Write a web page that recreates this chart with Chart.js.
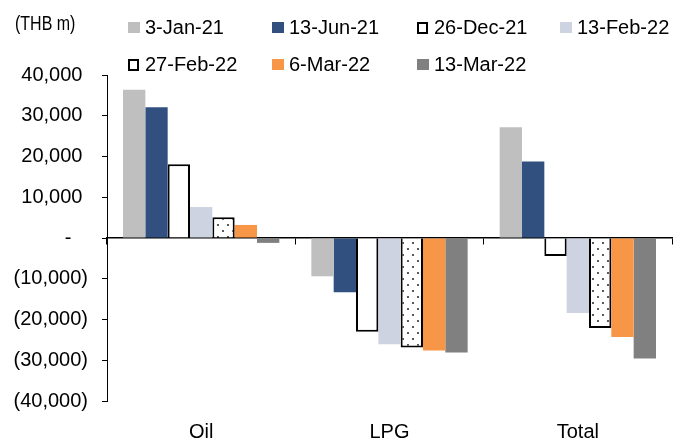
<!DOCTYPE html>
<html>
<head>
<meta charset="utf-8">
<script src="https://cdn.jsdelivr.net/npm/chart.js@4.4.0/dist/chart.umd.min.js"></script>
<style>
  html, body { margin: 0; padding: 0; background: #fff; }
  #wrap { width: 676px; height: 441px; position: relative; }
</style>
</head>
<body>
<div id="wrap"><canvas id="myChart"></canvas></div>
<script>
// data (THB m)
const categories = ['Oil', 'LPG', 'Total'];
const seriesNames = ['3-Jan-21', '13-Jun-21', '26-Dec-21', '13-Feb-22', '27-Feb-22', '6-Mar-22', '13-Mar-22'];
const jan03_21 = [36400, -9400, 27200];
const jun13_21 = [32100, -13300, 18800];
const dec26_21 = [18100, -23000, -4400];
const feb13_22 = [7600, -26100, -18400];
const feb27_22 = [5100, -26900, -22100];
const mar06_22 = [3200, -27600, -24300];
const mar13_22 = [-1200, -28100, -29600];
const yMin = -40000, yMax = 40000, yStep = 10000;

const FONT = '"Liberation Sans", Arial, sans-serif';

// white with black dots, for the 27-Feb-22 bars
const makeDots = () => {
  const c = document.createElement('canvas');
  c.width = 10; c.height = 12;
  const g = c.getContext('2d');
  g.fillStyle = '#fff';
  g.fillRect(0, 0, 10, 12);
  g.fillStyle = '#333';
  g.beginPath(); g.arc(3, 3, 1.1, 0, Math.PI * 2); g.fill();
  g.beginPath(); g.arc(8, 9, 1.1, 0, Math.PI * 2); g.fill();
  return g.createPattern(c, 'repeat');
};

const fmt = v => {
  if (v === 0) return '-   ';
  const s = Math.abs(v).toLocaleString('en-US');
  return v < 0 ? '(' + s + ')' : s + ' ';
};

const legendPlugin = {
  id: 'legendPlugin',
  afterDraw(chart) {
    const ctx = chart.ctx;
    ctx.save();
    ctx.font = '20px ' + FONT;
    ctx.textBaseline = 'middle';
    ctx.fillStyle = '#000';

    // unit label is a narrow face in the original
    ctx.save();
    ctx.translate(15, 24);
    ctx.scale(0.8, 1);
    ctx.fillText('(THB m)', 0, 0);
    ctx.restore();

    const colX = [128, 272, 417, 560];
    const rowY = [28, 65];
    chart.data.datasets.forEach((ds, i) => {
      const x = colX[i % 4];
      const y = rowY[Math.floor(i / 4)];
      if (ds.borderWidth) {
        ctx.fillStyle = '#fff';
        ctx.fillRect(x + 1, y - 5, 9, 10);
        ctx.lineWidth = 2;
        ctx.strokeStyle = '#000';
        ctx.strokeRect(x + 1, y - 5, 9, 10);
      } else {
        ctx.fillStyle = ds.backgroundColor;
        ctx.fillRect(x, y - 6, 12, 11);
      }
      ctx.fillStyle = '#000';
      ctx.fillText(ds.label, x + 17, y);
    });
    ctx.restore();
  }
};

const mk = (i, data, bg, border) => ({
  label: seriesNames[i],
  data: data,
  backgroundColor: bg,
  borderColor: '#000',
  borderWidth: border ? 2 : 0,
  borderSkipped: 'start'
});

new Chart(document.getElementById('myChart'), {
  type: 'bar',
  data: {
    labels: categories,
    datasets: [
      mk(0, jan03_21, '#bfbfbf', false),
      mk(1, jun13_21, '#31507f', false),
      mk(2, dec26_21, '#ffffff', true),
      mk(3, feb13_22, '#cdd3e0', false),
      mk(4, feb27_22, makeDots(), true),
      mk(5, mar06_22, '#f79646', false),
      mk(6, mar13_22, '#808080', false)
    ]
  },
  options: {
    responsive: true,
    maintainAspectRatio: false,
    animation: false,
    layout: { padding: { top: 75, right: 4, left: 0, bottom: 0 } },
    datasets: { bar: { barPercentage: 1, categoryPercentage: 0.83 } },
    plugins: {
      legend: { display: false },
      tooltip: { enabled: false }
    },
    scales: {
      x: {
        position: { y: 0 },
        offset: true,
        z: 1,
        ticks: { display: false },
        grid: { drawOnChartArea: false, offset: true, tickLength: 6, color: '#000', lineWidth: 1 },
        border: { color: '#000', width: 1.5 }
      },
      x2: {
        type: 'category',
        position: 'bottom',
        offset: true,
        grid: { display: false, drawTicks: false },
        border: { display: false },
        ticks: { font: { family: FONT, size: 20 }, color: '#000', padding: 19 },
        afterFit: s => { s.height = 40; }
      },
      y: {
        min: yMin,
        max: yMax,
        ticks: { stepSize: yStep, callback: fmt, font: { family: FONT, size: 20 }, color: '#000', padding: 14 },
        grid: { drawOnChartArea: false, tickLength: 5, color: '#000' },
        border: { color: '#000', width: 1 },
        afterFit: s => { s.width = 107; }
      }
    }
  },
  plugins: [legendPlugin]
});
</script>
</body>
</html>
